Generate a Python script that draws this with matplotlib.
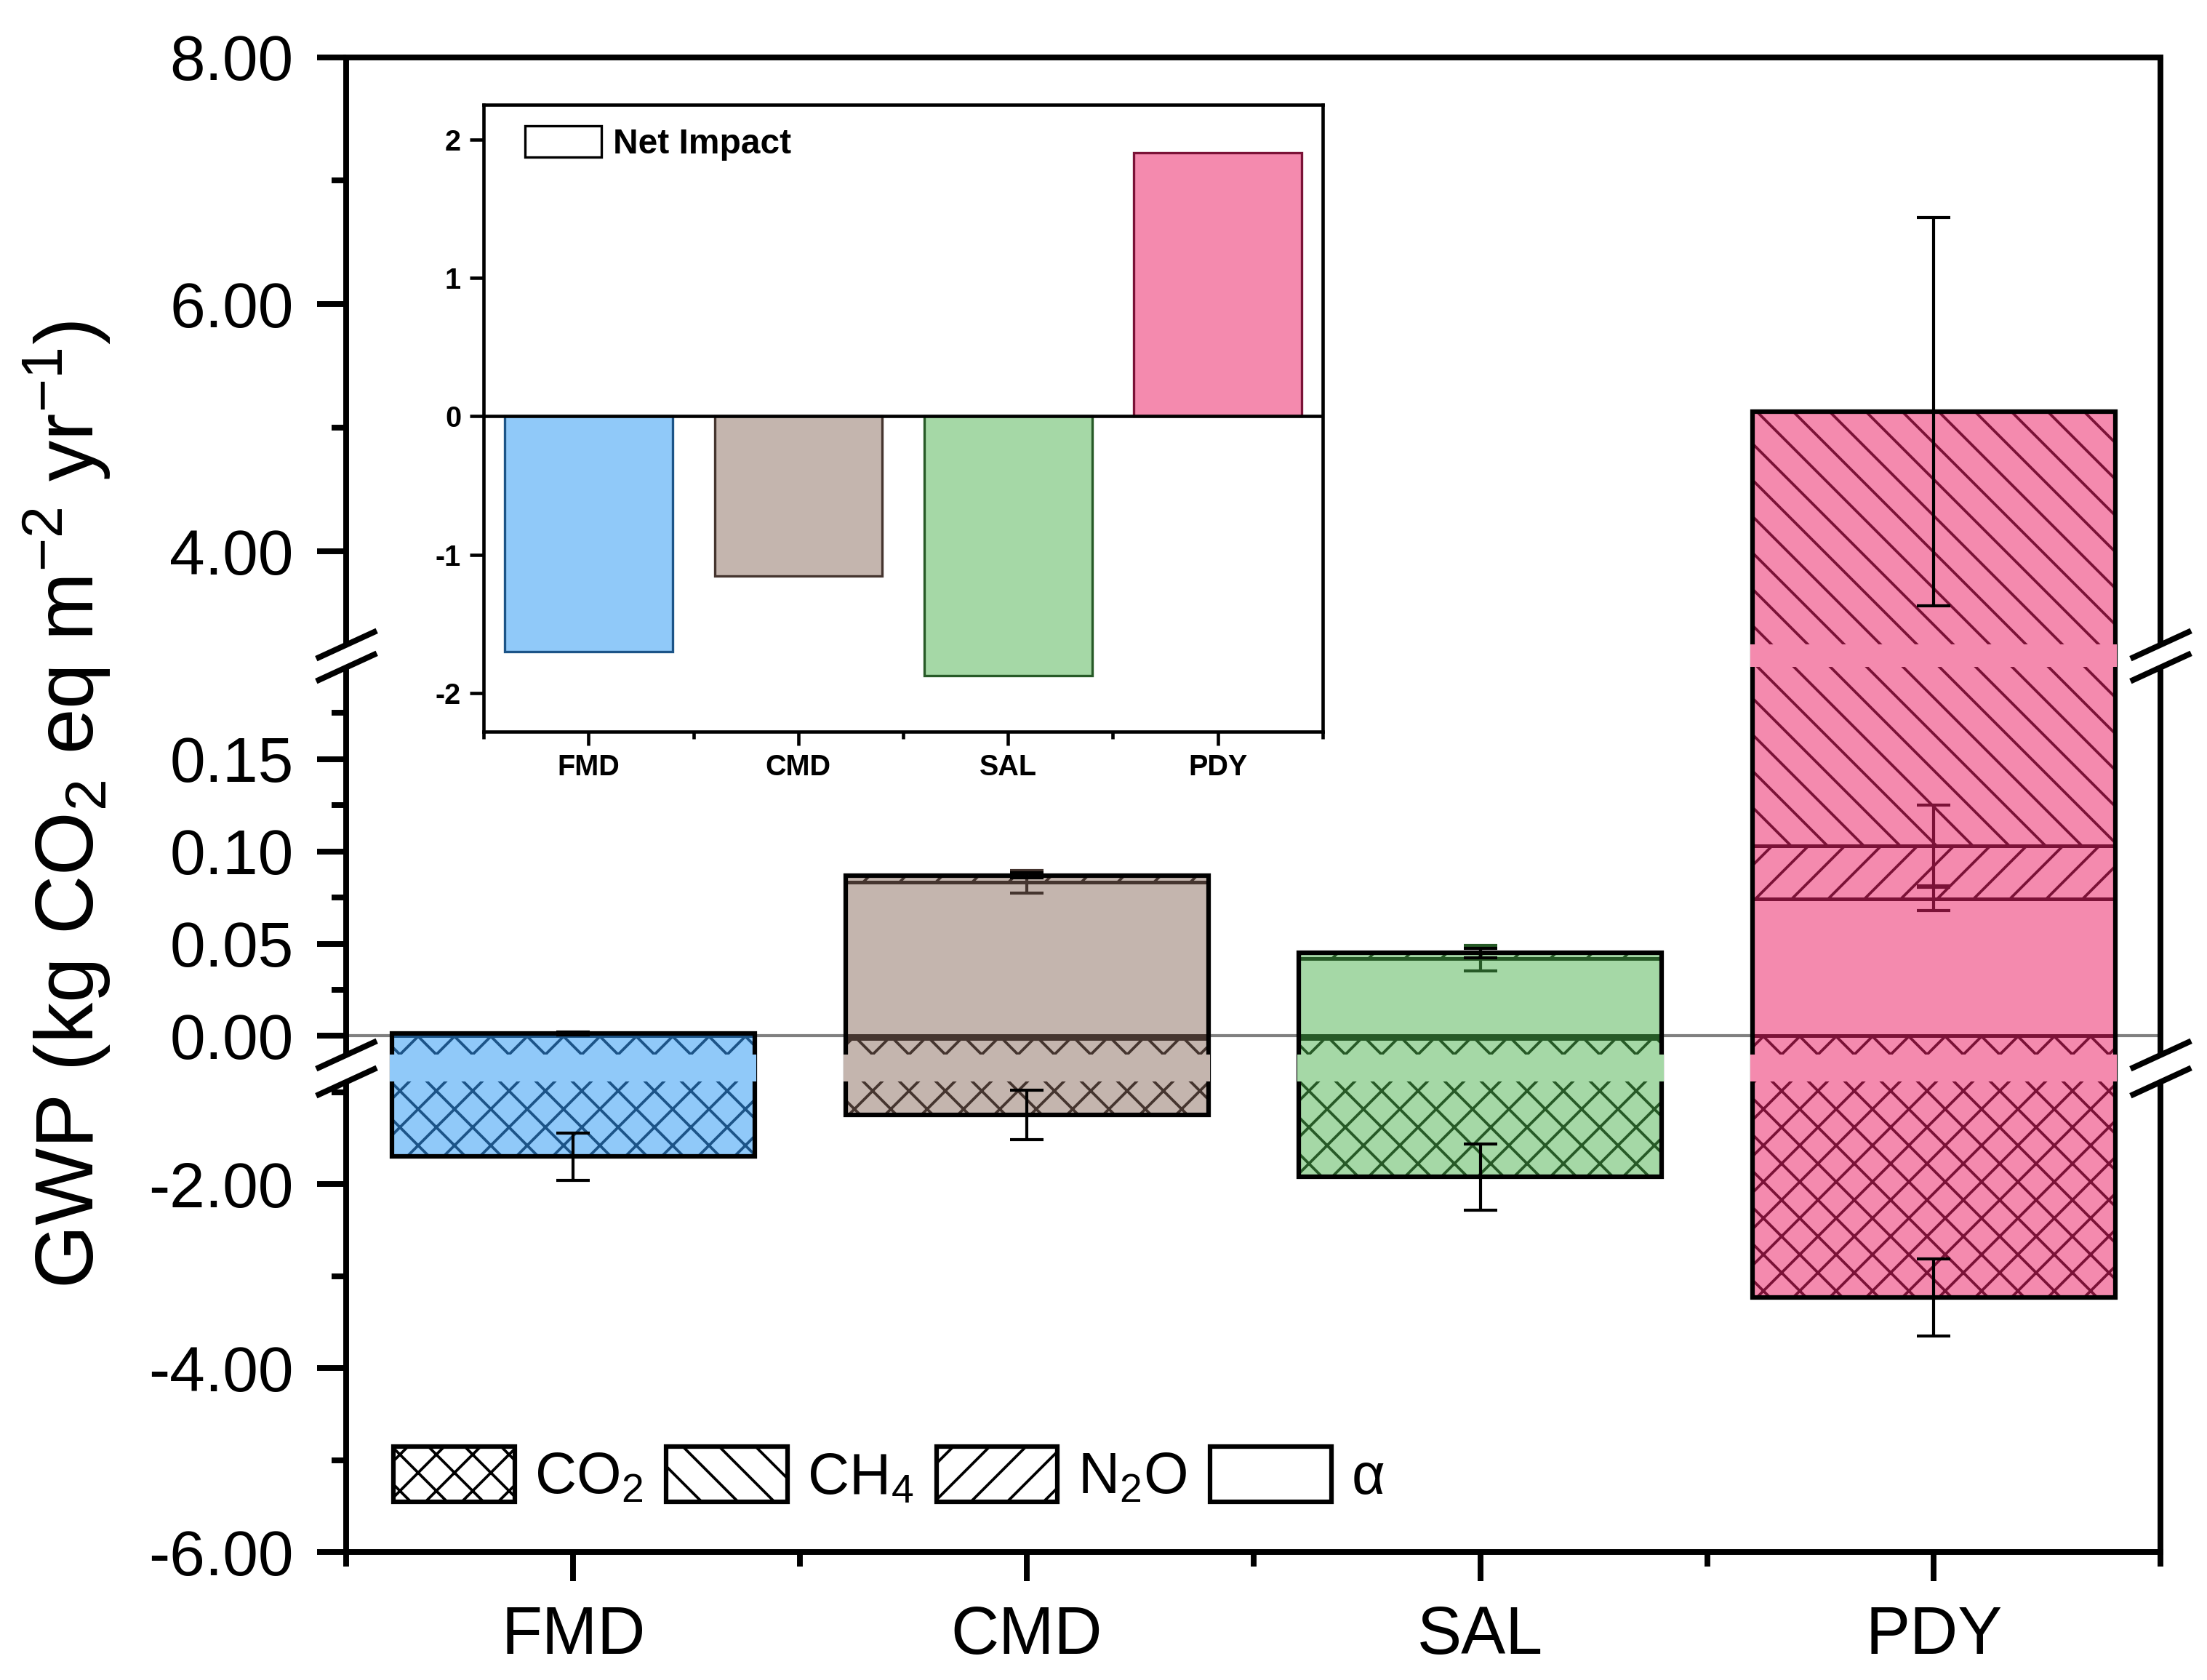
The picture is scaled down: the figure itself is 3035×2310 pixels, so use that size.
import numpy as np
import matplotlib
matplotlib.use('Agg')
import matplotlib.pyplot as plt
from matplotlib.patches import Patch, Rectangle

plt.rcParams['font.family'] = ['Liberation Sans', 'DejaVu Sans']
plt.rcParams['mathtext.fontset'] = 'custom'
plt.rcParams['mathtext.rm'] = 'Liberation Sans'
plt.rcParams['mathtext.it'] = 'Liberation Sans:italic'
plt.rcParams['mathtext.bf'] = 'Liberation Sans:bold'
plt.rcParams['hatch.linewidth'] = 0.9
plt.rcParams['axes.unicode_minus'] = False

#---------data--------
sites = ['FMD', 'CMD', 'SAL', 'PDY']
co2 = [-1.70, -1.245, -1.92, -3.23]
ch4 = [0.0004, -0.0015, -0.0015, 5.03]
n2o = [0.0008, 0.0035, 0.003, 0.029]
alb = [0.0, 0.0835, 0.042, 0.0742]
co2_err = [0.26, 0.27, 0.36, 0.42]
ch4_err = [0.0008, 0.0005, 0.0005, 1.57]
n2o_err = [0.0005, 0.0015, 0.0025, 0.022]
alb_err = [0.0, 0.006, 0.0069, 0.0063]
net = [-1.70, -1.155, -1.875, 1.905]

fills = ['#90c9f9', '#c4b5ae', '#a5d8a6', '#f48aae']
edges = ['#1c5488', '#45352f', '#275a27', '#7b1237']

# broken y axis: data values -> screen units (piecewise linear)
yb = np.array([-6, -0.88, -0.01, 0.2, 3.25, 8])
sb = np.array([0, 333, 352, 626, 642, 1057], dtype=float)
segs = [(-6, -0.88), (-0.01, 0.2), (3.25, 8)]
gaps = [(-0.88, -0.01), (0.2, 3.25)]


def piecewise(v, xp, fp):
    v = np.asarray(v, dtype=float)
    out = np.interp(v, xp, fp)
    k0 = (fp[1] - fp[0]) / (xp[1] - xp[0])
    k1 = (fp[-1] - fp[-2]) / (xp[-1] - xp[-2])
    out = np.where(v < xp[0], fp[0] + (v - xp[0]) * k0, out)
    out = np.where(v > xp[-1], fp[-1] + (v - xp[-1]) * k1, out)
    return out


def fwd(v):
    return piecewise(v, yb, sb)


def inv(s):
    return piecewise(s, sb, yb)


fig = plt.figure(figsize=(3035 / 300, 2310 / 300), dpi=300)
ax = fig.add_axes([0.157, 0.076, 0.822, 0.890])
ax.set_yscale('function', functions=(fwd, inv))

x = np.arange(1, 5)
w = 0.8

stack = [(alb, alb_err, ''), (n2o, n2o_err, '//'), (ch4, ch4_err, '\\\\'), (co2, co2_err, 'xx')]

pos = np.zeros(4)
neg = np.zeros(4)
ends = []
for vals, errs, hatch in stack:
    v = np.array(vals)
    bottom = np.where(v >= 0, pos, neg)
    ax.bar(x, v, w, bottom=bottom, color=fills, edgecolor=edges, hatch=hatch, lw=1.2, zorder=2)
    end = bottom + v
    pos = np.where(v >= 0, end, pos)
    neg = np.where(v < 0, end, neg)
    ends.append((end, errs, v >= 0))

# black outline round every stacked bar
ax.bar(x, pos - neg, w, bottom=neg, fill=False, edgecolor='black', lw=1.5, zorder=3)

# error bars: outermost segment black, inner ones in the bar colour
for end, errs, up in ends:
    outer = np.where(up, np.isclose(end, pos), np.isclose(end, neg))
    for i in range(4):
        if errs[i] > 0:
            ax.errorbar(x[i], end[i], yerr=errs[i], fmt='none',
                        ecolor='black' if outer[i] else edges[i],
                        elinewidth=1.0, capsize=5.5, capthick=1.0, zorder=6)

# fill the break bands of the bars without hatch
for lo, hi in gaps:
    for i in range(4):
        if neg[i] < lo and pos[i] > hi:
            ax.add_patch(Rectangle((x[i] - w / 2 - 0.004, lo), w + 0.008, hi - lo,
                                   facecolor=fills[i], edgecolor='none', zorder=4))

ax.axhline(0, color='#808080', lw=1.0, zorder=1)

ax.set_xlim(0.5, 4.5)
ax.set_ylim(-6, 8)

# spines with breaks
ax.spines['left'].set_visible(False)
ax.spines['right'].set_visible(False)
for s in ['top', 'bottom']:
    ax.spines[s].set_linewidth(1.9)
tr = ax.get_yaxis_transform()
for xa in (0, 1):
    for lo, hi in segs:
        ax.plot([xa, xa], [lo, hi], transform=tr, color='black', lw=1.9,
                clip_on=False, solid_capstyle='butt', zorder=7)
    for yv in (-0.88, -0.01, 0.2, 3.25):
        ax.plot([xa], [yv], transform=tr, marker=[(-1, -0.46), (1, 0.46)], markersize=20,
                mew=1.9, color='black', mec='black', ls='none', clip_on=False, zorder=7)

ax.set_yticks([-6, -4, -2, 0, 0.05, 0.10, 0.15, 4, 6, 8])
ax.set_yticklabels(['-6.00', '-4.00', '-2.00', '0.00', '0.05', '0.10', '0.15', '4.00', '6.00', '8.00'])
ax.set_yticks([-5, -3, -1, 0.025, 0.075, 0.125, 0.175, 5, 7], minor=True)
ax.yaxis.set_minor_formatter(plt.NullFormatter())
ax.set_xticks(x)
ax.set_xticklabels(sites)
ax.set_xticks([0.5, 1.5, 2.5, 3.5, 4.5], minor=True)
ax.tick_params(which='major', direction='out', length=9.5, width=1.9)
ax.tick_params(which='minor', direction='out', length=4.7, width=1.9)
ax.tick_params(axis='y', which='major', pad=8, labelsize=21)
ax.tick_params(axis='x', which='major', pad=8, labelsize=22)

ax.set_ylabel('GWP (kg CO$_2$ eq m$^{-2}$ yr$^{-1}$)', fontsize=27)
ax.yaxis.set_label_coords(-0.129, 0.5)

leg_handles = [Patch(facecolor='white', edgecolor='black', hatch=h, lw=1.5) for h in ['xx', '\\\\', '//', '']]
leg_labels = ['CO$_2$', 'CH$_4$', 'N$_2$O', 'α']
ax.legend(leg_handles, leg_labels, loc='lower left', bbox_to_anchor=(0.026, 0.031), ncol=4,
          frameon=False, fontsize=19, handlelength=2.1, handleheight=1.1,
          handletextpad=0.35, columnspacing=0.4, borderpad=0, borderaxespad=0)

#---------inset: net impact--------
axi = fig.add_axes([0.2192, 0.5644, 0.3801, 0.3732])
axi.bar(x, net, 0.8, color=fills, edgecolor=edges, lw=0.8, zorder=2)
axi.axhline(0, color='black', lw=1.1, zorder=3)
axi.set_xlim(0.5, 4.5)
axi.set_ylim(-2.28, 2.25)
axi.set_yticks([-2, -1, 0, 1, 2])
axi.set_xticks(x)
axi.set_xticklabels(sites)
axi.set_xticks([0.5, 1.5, 2.5, 3.5, 4.5], minor=True)
axi.tick_params(which='major', direction='out', length=4.5, width=1.1, labelsize=9.5, pad=3)
axi.tick_params(which='minor', direction='out', length=2.5, width=1.1)
axi.tick_params(axis='x', which='major', pad=2.7)
for lab in axi.get_xticklabels() + axi.get_yticklabels():
    lab.set_fontweight('bold')
for s in axi.spines.values():
    s.set_linewidth(1.1)
axi.legend([Patch(facecolor='white', edgecolor='black', lw=0.8)], ['Net Impact'],
           loc='upper left', bbox_to_anchor=(0.049, 0.966), frameon=False,
           prop={'weight': 'bold', 'size': 11.5}, handlelength=2.2, handleheight=0.98,
           handletextpad=0.33, borderpad=0, borderaxespad=0)

fig.savefig('out.png', dpi=300)
